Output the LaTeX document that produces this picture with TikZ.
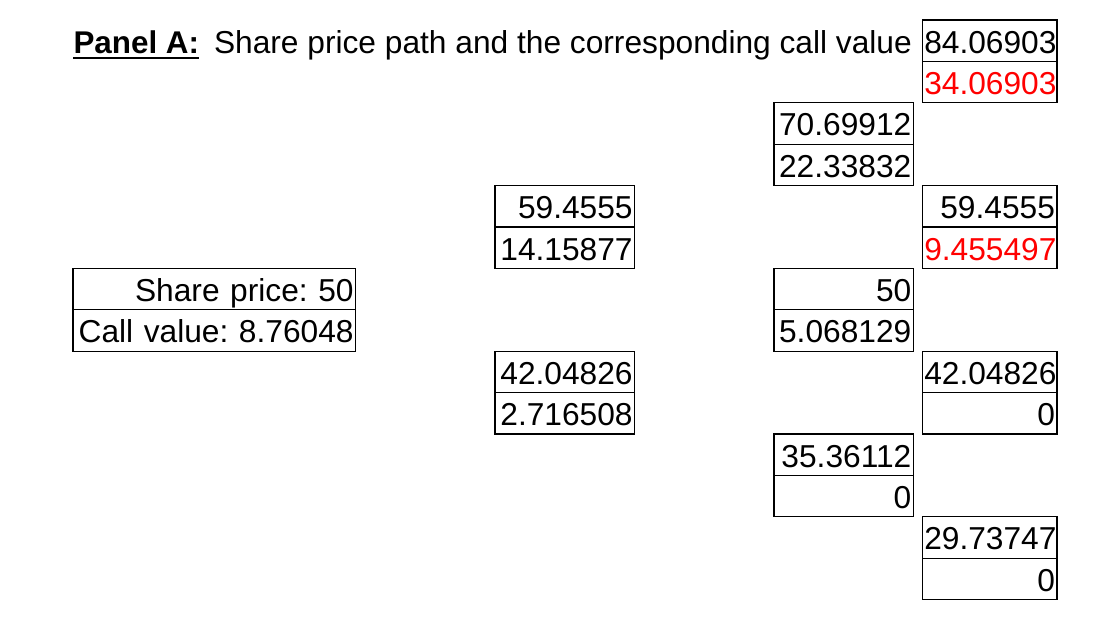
\documentclass[tikz,border=0pt]{standalone}
\usepackage{fontspec}
\setmainfont{Liberation Sans}
\usepackage{tikz}
\usepackage{xcolor}
\frenchspacing

\tikzset{
  cell/.style={draw, line width=1.2pt, anchor=north west, inner xsep=2pt, inner ysep=0pt,
    minimum height=41.4pt, align=right, text height=25pt, text depth=0pt},
  colA/.style={cell, text width=278.7pt},
  colB/.style={cell, text width=135.7pt},
  colC/.style={cell, text width=135.4pt},
  colD/.style={cell, text width=130.6pt}
}

\begin{document}
\begin{tikzpicture}[x=1pt, y=-1pt, font=\fontsize{31.7}{37}\selectfont]
    \useasboundingbox (0,0) rectangle (1106,632);
    % Titel
    \node[inner sep=0pt, anchor=base west, font=\fontsize{31.4}{37}\selectfont\bfseries] (panel) at (73.3,53) {Panel A:};
    \node[inner sep=0pt, anchor=base west] (title) at ([xshift=14.5pt]panel.base east) {Share price path and the corresponding call value};
    \draw[line width=2pt] ([yshift=-4.5pt]panel.base west) -- ([yshift=-4.5pt]panel.base east);
    % Startwert
    \node[colA] (s0) at (72.3,267.7) {Share price: 50};
    \node[colA] (c0) at (72.3,309.1) {Call value: 8.76048};
    % Periode 1
    \node[colB] (su) at (494.3,184.9) {59.4555};
    \node[colB] (cu) at (494.3,226.3) {14.15877};
    \node[colB] (sd) at (494.3,350.5) {42.04826};
    \node[colB] (cd) at (494.3,391.9) {2.716508};
    % Periode 2
    \node[colC] (suu) at (773.3,102.1) {70.69912};
    \node[colC] (cuu) at (773.3,143.5) {22.33832};
    \node[colC] (sud) at (773.3,267.7) {50};
    \node[colC] (cud) at (773.3,309.1) {5.068129};
    \node[colC] (sdd) at (773.3,433.3) {35.36112};
    \node[colC] (cdd) at (773.3,474.7) {0};
    % Periode 3
    \node[colD] (suuu) at (921.7,19.3) {84.06903};
    \node[colD, text=red] (cuuu) at (921.7,60.7) {34.06903};
    \node[colD] (suud) at (921.7,184.9) {59.4555};
    \node[colD, text=red] (cuud) at (921.7,226.3) {9.455497};
    \node[colD] (sudd) at (921.7,350.5) {42.04826};
    \node[colD] (cudd) at (921.7,391.9) {0};
    \node[colD] (sddd) at (921.7,516.1) {29.73747};
    \node[colD] (cddd) at (921.7,557.5) {0};
\end{tikzpicture}
\end{document}
